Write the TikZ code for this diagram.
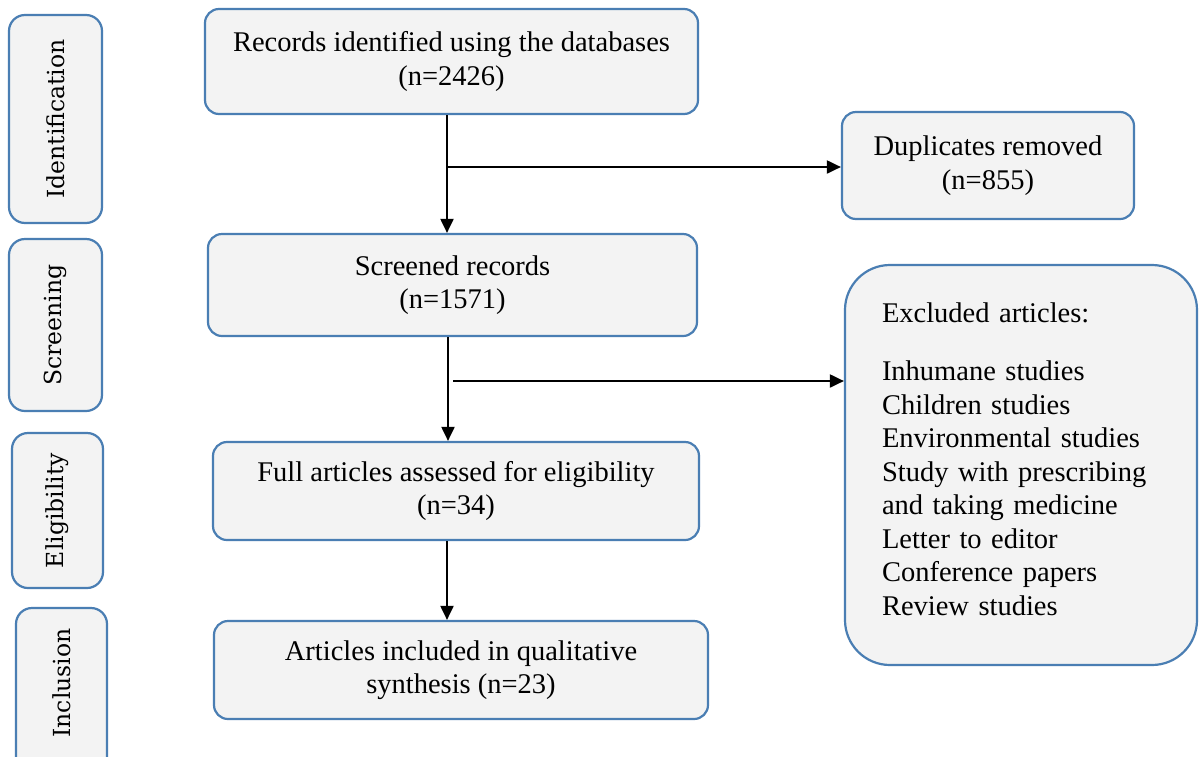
\documentclass[tikz,border=0pt]{standalone}
\usepackage{fontspec}
\setmainfont{Liberation Serif}
\newfontfamily\stagefont{DejaVu Serif}
\usetikzlibrary{arrows.meta}
\definecolor{edge}{HTML}{4A7EB3}
\definecolor{boxfill}{HTML}{F3F3F3}
\tikzset{
  box/.style={draw=edge, line width=2.2pt, fill=boxfill, rounded corners=14pt,
    inner sep=0pt, align=center, font=\fontsize{28.5}{33.5}\selectfont},
  stage/.style={box, rounded corners=16pt, rotate=90,
    font=\stagefont\fontsize{23.5}{27}\selectfont},
  flow/.style={line width=2pt, -{Triangle[length=14pt,width=13pt]}},
}
\begin{document}
\begin{tikzpicture}[x=1pt,y=-1pt]
\useasboundingbox (0,0) rectangle (1200,756);
\clip (0,0) rectangle (1200,756);
\fill[white] (0,0) rectangle (1200,756);

% stage labels down the left side
\node[stage, minimum width=208pt, minimum height=93pt] (sid) at (55.5,119) {Identification};
\node[stage, minimum width=172pt, minimum height=93pt] (sscr) at (55.5,325) {Screening};
\node[stage, minimum width=155pt, minimum height=91pt] (seli) at (57.5,510.5) {Eligibility};
\node[stage, minimum width=172pt, minimum height=91pt] (sinc) at (61.5,694) {\hspace*{22pt}Inclusion};

% main flow
\node[box, minimum width=493pt, minimum height=105pt] (rec) at (451.5,61.5)
  {Records identified using the databases\\(n=2426)};
\node[box, minimum width=292pt, minimum height=107pt] (dup) at (988,165.5)
  {Duplicates removed\\(n=855)};
\node[box, minimum width=489pt, minimum height=102pt] (scd) at (452.5,285)
  {Screened records\\(n=1571)};
\node[box, minimum width=352pt, minimum height=400pt, rounded corners=45pt,
  text width=278pt, align=left] (exc) at (1021,465)
  {Excluded articles:\\[25pt]
   Inhumane studies\\
   Children studies\\
   Environmental studies\\
   Study with prescribing\\
   and taking medicine\\
   Letter to editor\\
   Conference papers\\
   Review studies\\[-21pt]~};
\node[box, minimum width=486pt, minimum height=98pt] (full) at (456,491)
  {Full articles assessed for eligibility\\(n=34)};
\node[box, minimum width=494pt, minimum height=98pt] (incl) at (461,670)
  {Articles included in qualitative\\synthesis (n=23)};

% connectors
\coordinate (v1) at (447,0);
\coordinate (v2) at (448,0);
\coordinate (h1) at (447,167);
\coordinate (h2) at (453,381);
\draw[flow] (rec.south -| v1) -- (scd.north -| v1);
\draw[flow] (h1) -- (h1 -| dup.west);
\draw[flow] (scd.south -| v2) -- (full.north -| v2);
\draw[flow] (h2) -- (h2 -| exc.west);
\draw[flow] (full.south -| v1) -- (incl.north -| v1);
\end{tikzpicture}
\end{document}
